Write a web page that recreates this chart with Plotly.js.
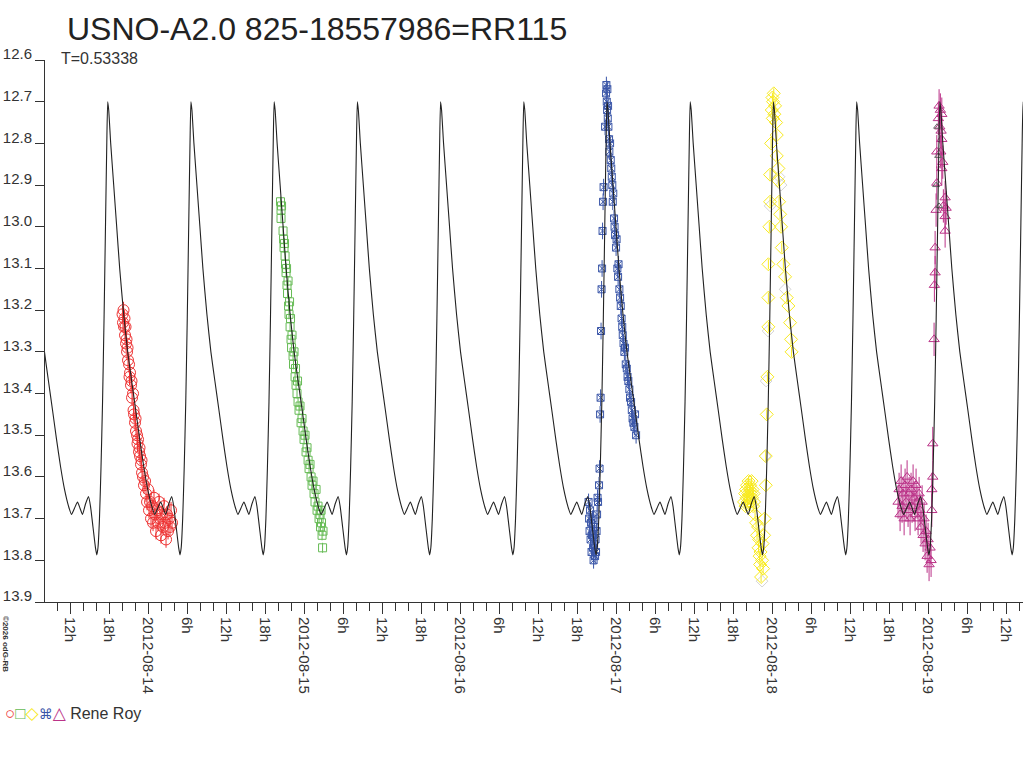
<!DOCTYPE html>
<html>
<head>
<meta charset="utf-8">
<script src="https://cdn.plot.ly/plotly-3.0.1.min.js"></script>
<style>
  html, body { margin: 0; padding: 0; background: #fff; }
  #chart { width: 1024px; height: 768px; }
</style>
</head>
<body>
<div id="chart"></div>
<script>
// times are hours since 2012-08-14 00:00 UT, values are magnitudes
const BASE_MS = Date.UTC(2012, 7, 14);

// model light curve, one cycle (phase 0 = maximum)
const periodDays = 0.53338;
const epochH = 32.2;
const tplPhase = [0, 0.012, 0.036, 0.072, 0.108, 0.144, 0.192, 0.240, 0.288, 0.337, 0.385, 0.433,
  0.481, 0.529, 0.565, 0.601, 0.637, 0.667, 0.697, 0.733, 0.769, 0.793, 0.823, 0.853, 0.869,
  0.883, 0.901, 0.919, 0.938, 0.956, 0.974, 0.989];
const tplMag = [12.70, 12.72, 12.80, 12.90, 13.00, 13.10, 13.21, 13.30, 13.37, 13.44, 13.51, 13.575,
  13.63, 13.67, 13.69, 13.675, 13.66, 13.675, 13.69, 13.665, 13.647, 13.67, 13.72, 13.77, 13.787,
  13.77, 13.70, 13.58, 13.42, 13.22, 12.99, 12.80];

const redH = [-3.92, -3.85, -3.77, -3.69, -3.62, -3.54, -3.46, -3.38, -3.31, -3.23, -3.15, -3.08, -2.92,
  -2.85, -2.77, -2.62, -2.54, -2.46, -2.31, -2.23, -2.15, -2.00, -1.92, -1.85, -1.69, -1.62, -1.54,
  -1.38, -1.31, -1.23, -1.08, -1.00, -0.92, -0.77, -0.62, -0.46, -0.31, -0.15, 0, 0.15, 0.31, 0.46,
  0.62, 0.77, 0.92, 1.08, 1.23, 1.38, 1.54, 1.69, 1.85, 2.00, 2.15, 2.31, 2.46, 2.62, 2.77, 2.92,
  3.08, 3.23, 3.38, 3.54, 3.69];
const redMag = [13.21, 13.23, 13.20, 13.24, 13.22, 13.26, 13.24, 13.28, 13.27, 13.30, 13.29, 13.32, 13.33,
  13.36, 13.35, 13.38, 13.37, 13.41, 13.40, 13.44, 13.45, 13.47, 13.46, 13.49, 13.50, 13.52, 13.51,
  13.54, 13.53, 13.55, 13.57, 13.56, 13.59, 13.60, 13.62, 13.61, 13.64, 13.66, 13.63, 13.68, 13.66,
  13.70, 13.67, 13.71, 13.65, 13.69, 13.73, 13.68, 13.71, 13.66, 13.70, 13.74, 13.69, 13.72, 13.67,
  13.71, 13.75, 13.69, 13.73, 13.70, 13.72, 13.68, 13.71];

const greenH = [20.38, 20.46, 20.46, 20.54, 20.77, 20.85, 20.92, 21.00, 21.08, 21.15, 21.23, 21.31, 21.38,
  21.46, 21.54, 21.62, 21.69, 21.77, 21.85, 21.92, 22.00, 22.08, 22.15, 22.31, 22.38, 22.46, 22.62,
  22.69, 22.77, 22.92, 23.00, 23.08, 23.23, 23.38, 23.54, 23.69, 23.85, 24.00, 24.15, 24.31, 24.46,
  24.62, 24.77, 24.92, 25.08, 25.23, 25.38, 25.54, 25.69, 25.85, 26.00, 26.15, 26.31, 26.46, 26.54,
  26.62, 26.69, 26.77, 26.85, 26.92];
const greenMag = [12.94, 12.96, 12.98, 12.95, 13.01, 13.03, 13.05, 13.04, 13.07, 13.09, 13.11, 13.10, 13.14,
  13.16, 13.13, 13.19, 13.21, 13.18, 13.24, 13.22, 13.27, 13.29, 13.26, 13.31, 13.33, 13.30, 13.36,
  13.34, 13.38, 13.40, 13.37, 13.42, 13.44, 13.43, 13.47, 13.46, 13.49, 13.51, 13.50, 13.54, 13.53,
  13.56, 13.58, 13.57, 13.60, 13.62, 13.61, 13.64, 13.66, 13.63, 13.68, 13.67, 13.70, 13.69, 13.72,
  13.68, 13.71, 13.74, 13.77, 13.73];

const blueH = [67.77, 67.85, 67.92, 68.00, 68.08, 68.15, 68.23, 68.31, 68.38, 68.46, 68.54, 68.62, 68.69,
  68.77, 68.85, 68.92, 69.00, 69.08, 69.15, 69.23, 69.38, 69.46, 69.54, 69.62, 69.69, 69.77, 69.85,
  69.92, 70.00, 70.08, 70.31, 70.46, 70.51, 70.57, 70.62, 70.66, 70.72, 70.77, 70.82, 70.92, 70.97,
  71.08, 71.18, 71.26, 71.34, 71.42, 71.49, 71.57, 71.69, 71.77, 71.85, 72.00, 72.08, 72.20, 72.31,
  72.38, 72.51, 72.62, 72.72, 72.85, 72.95, 73.03, 73.15, 73.28, 73.38, 73.49, 73.65, 73.77, 73.89,
  74.05, 74.15, 74.31, 74.42, 74.54, 74.66, 74.82, 74.92, 75.08];
const blueMag = [13.66, 13.70, 13.73, 13.68, 13.75, 13.71, 13.78, 13.74, 13.70, 13.77, 13.80, 13.76, 13.72,
  13.79, 13.75, 13.78, 13.73, 13.69, 13.65, 13.66, 13.62, 13.58, 13.45, 13.41, 13.25, 13.15, 13.10,
  13.01, 12.94, 12.905, 12.76, 12.68, 12.66, 12.70, 12.72, 12.67, 12.74, 12.71, 12.76, 12.79, 12.82,
  12.80, 12.84, 12.86, 12.88, 12.90, 12.94, 12.92, 12.98, 13.00, 13.02, 13.05, 13.03, 13.10, 13.12,
  13.09, 13.15, 13.17, 13.19, 13.22, 13.24, 13.26, 13.28, 13.30, 13.29, 13.33, 13.34, 13.36, 13.37,
  13.39, 13.41, 13.42, 13.44, 13.46, 13.47, 13.48, 13.45, 13.50];

const yellowH = [91.69, 91.85, 91.92, 92.00, 92.08, 92.15, 92.23, 92.31, 92.38, 92.46, 92.54, 92.62, 92.69,
  92.77, 92.85, 92.92, 93.00, 93.08, 93.15, 93.23, 93.38, 93.54, 93.69, 93.85, 93.92, 94.00, 94.08,
  94.15, 94.23, 94.31, 94.46, 94.54, 94.62, 94.77, 94.85, 95.03, 95.03, 95.18, 95.28, 95.43, 95.43,
  95.43, 95.58, 95.69, 95.69, 95.85, 95.95, 96.05, 96.11, 96.15, 96.26, 96.35, 96.46, 96.62, 96.72,
  96.72, 96.97, 96.97, 97.08, 97.23, 97.38, 97.49, 97.74, 98.00, 98.26, 98.51, 98.77, 98.92, 99.00];
const yellowMag = [13.66, 13.64, 13.67, 13.63, 13.65, 13.62, 13.66, 13.64, 13.61, 13.65, 13.63, 13.62, 13.66,
  13.64, 13.61, 13.65, 13.63, 13.67, 13.64, 13.66, 13.69, 13.71, 13.74, 13.72, 13.77, 13.75, 13.79,
  13.81, 13.78, 13.84, 13.80, 13.76, 13.82, 13.74, 13.70, 13.62, 13.55, 13.45, 13.36, 13.24, 13.17,
  13.09, 13.00, 12.94, 12.875, 12.80, 12.72, 12.69, 12.74, 12.70, 12.68, 12.73, 12.71, 12.75, 12.78,
  12.83, 12.86, 12.89, 12.94, 12.97, 13.00, 13.05, 13.09, 13.12, 13.17, 13.19, 13.23, 13.27, 13.30];

const magentaH = [115.38, 115.54, 115.69, 115.85, 116.00, 116.15, 116.31, 116.46, 116.62, 116.77, 116.92,
  117.08, 117.23, 117.38, 117.54, 117.69, 117.85, 118.00, 118.15, 118.31, 118.46, 118.62, 118.77,
  118.92, 119.08, 119.23, 119.38, 119.54, 119.69, 119.85, 120.00, 120.15, 120.31, 120.46, 120.57,
  120.57, 120.72, 120.72, 120.92, 120.97, 121.08, 121.08, 121.23, 121.34, 121.34, 121.58, 121.69,
  121.80, 121.89, 122.00, 122.11, 122.11, 121.95, 122.26, 122.11, 122.62, 122.35, 122.77, 122.62, 122.62];
const magentaMag = [13.66, 13.63, 13.69, 13.61, 13.67, 13.64, 13.70, 13.62, 13.66, 13.60, 13.68, 13.64,
  13.70, 13.63, 13.67, 13.61, 13.65, 13.69, 13.62, 13.66, 13.70, 13.64, 13.68, 13.72, 13.66, 13.74,
  13.70, 13.76, 13.73, 13.79, 13.75, 13.81, 13.77, 13.80, 13.68, 13.63, 13.60, 13.52, 13.27, 13.14,
  13.11, 13.05, 12.96, 12.895, 12.82, 12.74, 12.71, 12.76, 12.72, 12.77, 12.73, 12.79, 12.82, 12.845,
  12.86, 12.93, 12.95, 12.955, 12.975, 13.01];

// faint points mixed into the yellow and magenta runs
const greyDiamondH = [94.46, 94.92, 95.08, 95.38, 95.69, 97.08, 97.38, 98.00];
const greyDiamondMag = [13.85, 13.55, 13.37, 13.25, 12.95, 12.88, 12.90, 13.15];
const darkTriangleH = [121.23, 121.38, 121.54, 121.69];
const darkTriangleMag = [12.90, 12.76, 12.83, 12.95];

const tickHours = [-12, -6, 0, 6, 12, 18, 24, 30, 36, 42, 48, 54, 60, 66, 72, 78, 84, 90, 96, 102,
  108, 114, 120, 126, 132];
const tickLabels = ['12h', '18h', '2012-08-14', '6h', '12h', '18h', '2012-08-15', '6h', '12h', '18h',
  '2012-08-16', '6h', '12h', '18h', '2012-08-17', '6h', '12h', '18h', '2012-08-18', '6h', '12h', '18h',
  '2012-08-19', '6h', '12h'];
const rangeHours = [-15.85, 134.6];

const FONT = 'Liberation Sans, Arial, sans-serif';

function stamp(h) {
  return new Date(BASE_MS + h * 3600000).toISOString().slice(0, 23).replace('T', ' ');
}

// repeat the model cycle over the visible span
const periodH = periodDays * 24;
const curveX = [];
const curveY = [];
for (let k = -5; k <= 9; k++) {
  tplPhase.forEach((p, i) => {
    const h = epochH + (k + p) * periodH;
    if (h < rangeHours[0] - periodH || h > rangeHours[1] + periodH) return;
    curveX.push(stamp(h));
    curveY.push(tplMag[i]);
  });
}

function series(hours, mags, color, symbol, size, err) {
  const trace = {
    type: 'scatter',
    mode: 'markers',
    x: hours.map(stamp),
    y: mags,
    marker: { symbol, size, color, line: { color, width: 1 } },
    hoverinfo: 'skip',
    showlegend: false,
  };
  if (err) {
    trace.error_y = { type: 'constant', value: err, width: 0, thickness: 1, color };
  }
  return trace;
}

const traces = [
  series(redH, redMag, '#EE3333', 'circle-open', 11, 0.02),
  series(greenH, greenMag, '#66BB55', 'square-open', 8, 0.012),
  series(blueH, blueMag, '#3A56A8', 'square-x-open', 7, 0.02),
  series(greyDiamondH, greyDiamondMag, '#D4D4D4', 'diamond-open', 9, 0),
  series(yellowH, yellowMag, '#F8EA1E', 'diamond-open', 10, 0.012),
  series(magentaH, magentaMag, '#BB3388', 'triangle-up-open', 9, 0.04),
  series(darkTriangleH, darkTriangleMag, '#666666', 'triangle-up-open', 6, 0),
  {
    type: 'scatter',
    mode: 'lines',
    x: curveX,
    y: curveY,
    line: { color: '#222222', width: 1.1, shape: 'spline', smoothing: 0.5 },
    hoverinfo: 'skip',
    showlegend: false,
  },
];

const legendText =
  '<span style="color:#EE3333;font-size:17px">○</span>' +
  '<span style="color:#66BB55;font-size:17px">□</span>' +
  '<span style="color:#F8EA1E;font-size:17px">◇</span>' +
  '<span style="color:#3A56A8;font-size:14px">⌘</span>' +
  '<span style="color:#BB3388;font-size:17px">△</span> Rene Roy';

const layout = {
  width: 1024,
  height: 768,
  margin: { l: 45, r: 1, t: 60, b: 166 },
  paper_bgcolor: '#ffffff',
  plot_bgcolor: '#ffffff',
  showlegend: false,
  font: { family: FONT, size: 15, color: '#333333' },
  title: {
    text: 'USNO-A2.0 825-18557986=RR115',
    xref: 'container',
    yref: 'container',
    x: 67 / 1024,
    xanchor: 'left',
    y: 1 - 29 / 768,
    yanchor: 'middle',
    font: { family: FONT, size: 32, color: '#222222' },
  },
  xaxis: {
    type: 'date',
    range: rangeHours.map(stamp),
    tickmode: 'array',
    tickvals: tickHours.map(stamp),
    ticktext: tickLabels,
    tickangle: 90,
    ticks: 'outside',
    ticklen: 11,
    tickcolor: '#333333',
    tickfont: { family: FONT, size: 15, color: '#333333' },
    minor: { dtick: 7200000, tick0: stamp(0), ticks: 'outside', ticklen: 8, tickcolor: '#333333' },
    showgrid: false,
    zeroline: false,
    showline: true,
    linecolor: '#333333',
    linewidth: 1,
    fixedrange: true,
  },
  yaxis: {
    range: [13.9, 12.6],
    dtick: 0.1,
    tick0: 12.6,
    tickformat: '.1f',
    ticks: 'outside',
    ticklen: 9,
    tickcolor: '#333333',
    ticklabelshift: 6,
    tickfont: { family: FONT, size: 15, color: '#333333' },
    showgrid: false,
    zeroline: false,
    showline: true,
    linecolor: '#333333',
    linewidth: 1,
    fixedrange: true,
  },
  annotations: [
    {
      text: 'T=0.53338',
      xref: 'paper', yref: 'paper',
      x: (59 - 45) / 978, y: (602 - 58) / 542,
      xanchor: 'left', yanchor: 'middle',
      showarrow: false,
      font: { family: FONT, size: 16, color: '#333333' },
    },
    {
      text: '©2026 odG-RB',
      xref: 'paper', yref: 'paper',
      x: (6 - 45) / 978, y: (602 - 644) / 542,
      xanchor: 'center', yanchor: 'middle',
      textangle: 90,
      showarrow: false,
      font: { family: FONT, size: 8, color: '#333333', weight: 'bold' },
    },
    {
      text: legendText,
      xref: 'paper', yref: 'paper',
      x: (3 - 45) / 978, y: (602 - 713) / 542,
      xanchor: 'left', yanchor: 'middle',
      showarrow: false,
      font: { family: FONT + ', DejaVu Sans', size: 16, color: '#333333' },
    },
  ],
};

Plotly.newPlot('chart', traces, layout, { displayModeBar: false, staticPlot: true });
</script>
</body>
</html>
